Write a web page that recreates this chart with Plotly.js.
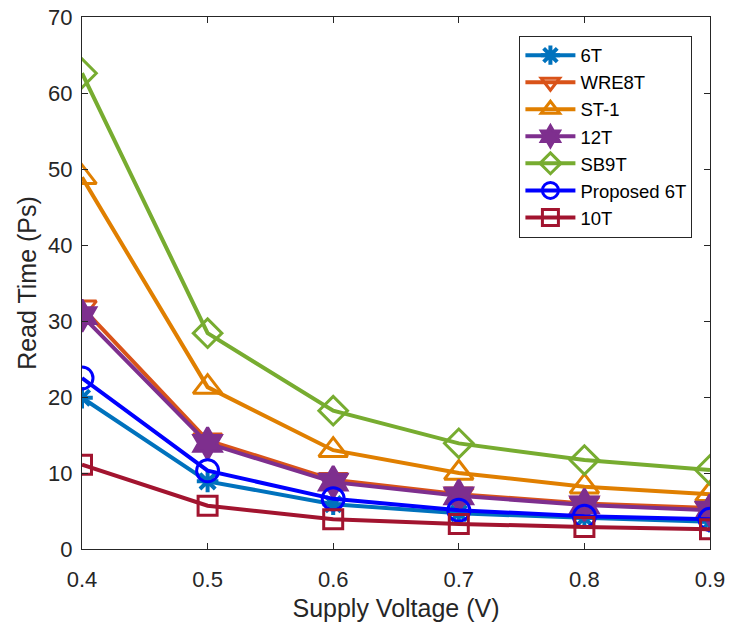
<!DOCTYPE html>
<html>
<head>
<meta charset="utf-8">
<script src="https://cdn.plot.ly/plotly-3.0.1.min.js"></script>
<style>html,body{margin:0;padding:0;background:#fff;}#chart{width:731px;height:629px;}</style>
</head>
<body>
<div id="chart"></div>
<script>
const voltage = [0.4, 0.5, 0.6, 0.7, 0.8, 0.9];
const t6T = [19.9, 8.9, 5.9, 4.7, 4.1, 3.6];
const tWRE8T = [31.8, 14.3, 9.1, 7.2, 6.0, 5.4];
const tST1 = [48.9, 21.3, 13.0, 10.0, 8.2, 7.2];
const t12T = [30.7, 13.9, 8.8, 7.0, 5.8, 5.1];
const tSB9T = [62.6, 28.4, 18.2, 13.9, 11.7, 10.4];
const tProp6T = [22.5, 10.3, 6.6, 5.1, 4.3, 3.9];
const t10T = [11.1, 5.7, 3.9, 3.3, 2.9, 2.6];

const seriesNames = ['6T', 'WRE8T', 'ST-1', '12T', 'SB9T', 'Proposed 6T', '10T'];
const seriesData = [t6T, tWRE8T, tST1, t12T, tSB9T, tProp6T, t10T];
const colors = ['#0072BD', '#D95319', '#E07F00', '#7E2F8E', '#77AC30', '#0000FF', '#A2142F'];
const symbols = ['asterisk-open', 'triangle-down-open', 'triangle-up-open', 'hexagram', 'diamond-open', 'circle-open', 'square-open'];
const sizes = [18, 25, 25, 24, 22, 22, 19];

const traces = seriesNames.map((n, i) => ({
  x: voltage,
  y: seriesData[i],
  name: n,
  type: 'scatter',
  mode: 'lines+markers',
  line: {color: colors[i], width: 4},
  marker: {symbol: symbols[i], size: sizes[i], color: colors[i],
           line: {color: colors[i], width: symbols[i] === 'asterisk-open' ? 4 : 3}}
}));

const layout = {
  width: 731, height: 629,
  margin: {l: 82, r: 21, t: 17, b: 80},
  paper_bgcolor: '#fff', plot_bgcolor: '#fff',
  font: {family: 'Liberation Sans, Arial, sans-serif', color: '#262626', size: 22},
  showlegend: true,
  legend: {
    x: 0.972, xanchor: 'right', y: 0.965, yanchor: 'top',
    bgcolor: '#fff', bordercolor: '#262626', borderwidth: 1,
    font: {size: 18.5, color: '#000'},
    tracegroupgap: 0, itemwidth: 50
  },
  xaxis: {
    range: [0.4, 0.9], tickvals: [0.4, 0.5, 0.6, 0.7, 0.8, 0.9],
    ticktext: ['0.4', '0.5', '0.6', '0.7', '0.8', '0.9'],
    ticks: 'inside', ticklen: 6, tickcolor: '#262626', showline: true, linecolor: '#262626', linewidth: 1,
    mirror: 'ticks', showgrid: false, zeroline: false,
    tickfont: {size: 22}, ticklabelstandoff: 11,
    title: {text: 'Supply Voltage (V)', font: {size: 25}, standoff: 8}
  },
  yaxis: {
    range: [0, 70], tickvals: [0, 10, 20, 30, 40, 50, 60, 70],
    ticks: 'inside', ticklen: 6, tickcolor: '#262626', showline: true, linecolor: '#262626', linewidth: 1,
    mirror: 'ticks', showgrid: false, zeroline: false,
    tickfont: {size: 22}, ticklabelstandoff: 4,
    title: {text: 'Read Time (Ps)', font: {size: 25}, standoff: 4}
  }
};

Plotly.newPlot('chart', traces, layout, {displayModeBar: false, staticPlot: true});
</script>
</body>
</html>
